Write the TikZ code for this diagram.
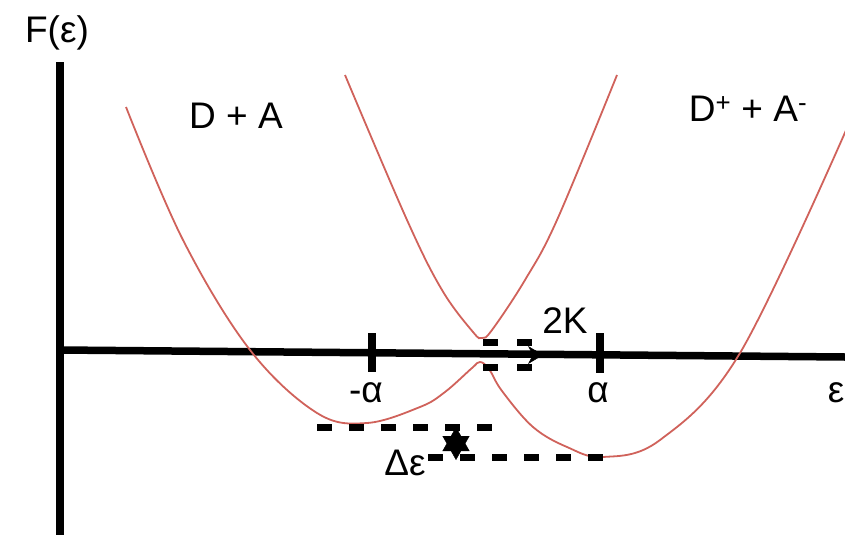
\documentclass[tikz,border=0pt]{standalone}
\usepackage{fontspec}
\setmainfont{Liberation Sans}
\usepackage{xcolor}
\definecolor{vizCurve}{HTML}{D0625B}
\definecolor{vizAxis}{HTML}{000000}
\usetikzlibrary{arrows.meta}

\tikzset{
  axisline/.style={line width=7.5pt, draw=vizAxis},
  tickline/.style={line width=8pt, draw=vizAxis},
  levelline/.style={line width=7pt, dash pattern=on 15pt off 17pt},
  splitline/.style={line width=7pt, dash pattern=on 15pt off 19pt},
  curveline/.style={line width=1.8pt, draw=vizCurve},
  lbl/.style={font=\fontsize{37}{40}\selectfont, inner sep=0pt, anchor=base},
}

\begin{document}
\begin{tikzpicture}[x=1pt, y=-1pt]
  \useasboundingbox (0,0) rectangle (845,535);

  % axes
  \coordinate (yTop) at (60,62);
  \coordinate (yBot) at (60,535);
  \coordinate (xLeft) at (60,350);
  \coordinate (xRight) at (845,357);
  \draw[axisline] (yTop) -- (yBot);
  \draw[axisline] (xLeft) -- (xRight);

  % ticks
  \coordinate (tickAtop) at (372,333);
  \coordinate (tickAbot) at (372,372);
  \coordinate (tickBtop) at (600,333);
  \coordinate (tickBbot) at (600,373);
  \draw[tickline] (tickAtop) -- (tickAbot);
  \draw[tickline] (tickBtop) -- (tickBbot);

  % lower surface
  \draw[curveline] plot[smooth, tension=0.6] coordinates {
    (126,107) (183,240) (250,350) (317,413) (367,423) (420,407)
    (445,392) (472,368) (480,362) (489,369) (502,391) (533,427)
    (567,447) (603,457) (660,440) (740,353) (847,128)};

  % upper surface
  \draw[curveline] plot[smooth, tension=0.6] coordinates {
    (345,75) (407,220) (442,290) (473,332) (482,338) (492,330)
    (525,280) (557,220) (617,75)};

  % splitting 2K
  \coordinate (gapTopL) at (483,342);
  \coordinate (gapTopR) at (532,342);
  \coordinate (gapBotL) at (483,367);
  \coordinate (gapBotR) at (532,367);
  \draw[splitline] (gapTopL) -- (gapTopR);
  \draw[splitline] (gapBotL) -- (gapBotR);
  \coordinate (gapArrS) at (520,355);
  \coordinate (gapArrE) at (543,355);
  \draw[-{Stealth[length=15pt,width=18pt]}] (gapArrS) -- (gapArrE);

  % minima levels
  \coordinate (minLeftA) at (317,427);
  \coordinate (minLeftB) at (492,427);
  \coordinate (minRightA) at (428,457);
  \coordinate (minRightB) at (603,457);
  \draw[levelline] (minLeftA) -- (minLeftB);
  \draw[levelline] (minRightA) -- (minRightB);
  \coordinate (deltaTop) at (456,427);
  \coordinate (deltaBot) at (456,460);
  \draw[{Triangle[length=24pt,width=27pt]}-{Triangle[length=24pt,width=27pt]}] (deltaTop) -- (deltaBot);

  % labels
  \node[lbl] (fLabel) at (57,43) {F(ε)};
  \node[lbl] (daLabel) at (236,128) {D + A};
  \node[lbl] (dpamLabel) at (748,121) {D\textsuperscript{+} + A\textsuperscript{-}};
  \node[lbl] (negAlpha) at (366,402) {-α};
  \node[lbl] (posAlpha) at (598,402) {α};
  \node[lbl] (epsLabel) at (836,402) {ε};
  \node[lbl] (kLabel) at (565,333) {2K};
  \node[lbl] (deLabel) at (405,475) {Δε};
\end{tikzpicture}
\end{document}
